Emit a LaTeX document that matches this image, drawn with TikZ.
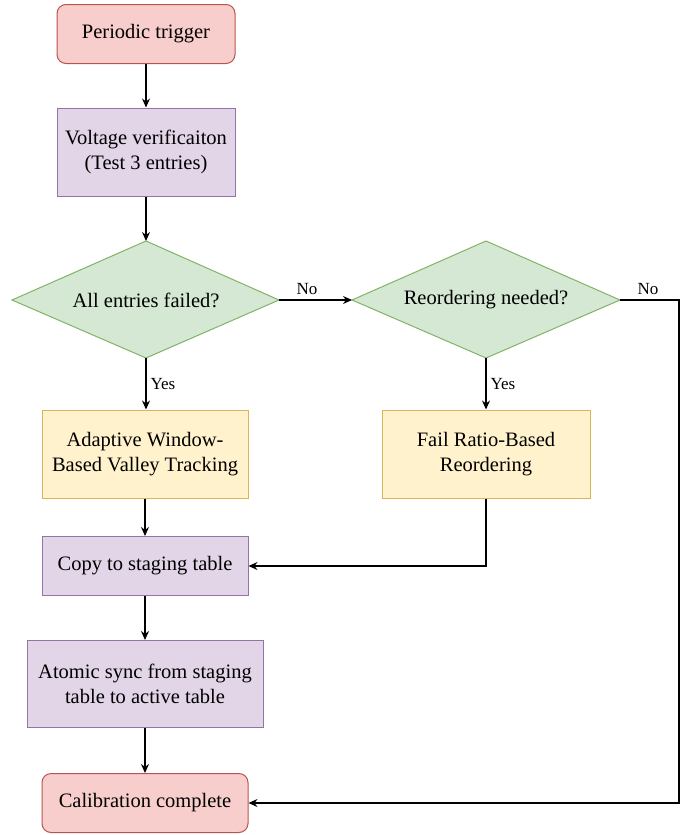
\documentclass[tikz,border=0pt]{standalone}
\usepackage{fontspec}
\setmainfont{Liberation Serif}
\newfontfamily\tnr{Liberation Serif}
\usetikzlibrary{arrows.meta,shapes.geometric}
\definecolor{redF}{HTML}{F8CECC}\definecolor{redS}{HTML}{B85450}
\definecolor{purF}{HTML}{E1D5E7}\definecolor{purS}{HTML}{9673A6}
\definecolor{grnF}{HTML}{D5E8D4}\definecolor{grnS}{HTML}{82B366}
\definecolor{ylwF}{HTML}{FFF2CC}\definecolor{ylwS}{HTML}{D6B656}
\begin{document}
\begin{tikzpicture}[x=1pt,y=-1pt,
  txt/.style={font=\tnr\fontsize{20.5}{25}\selectfont},
  base/.style={draw, line width=1pt, align=center, txt, inner sep=0pt},
  term/.style={base, fill=redF, draw=redS, rounded corners=9pt},
  proc/.style={base, fill=purF, draw=purS},
  alg/.style={base, fill=ylwF, draw=ylwS},
  conn/.style={line width=1.2pt, -{Stealth[length=9pt,width=8pt,inset=3pt]}},
  lab/.style={font=\tnr\fontsize{17}{19}\selectfont, inner sep=0pt}]
\useasboundingbox (0,0) rectangle (686,835);
\node[term, minimum width=178pt, minimum height=59pt] (trig) at (146,34) {Periodic trigger};
\node[proc, minimum width=178pt, minimum height=88pt] (volt) at (146,152) {Voltage verificaiton\\(Test 3 entries)};
\path (146,241) coordinate (d1t) (146,358) coordinate (d1b) (12,300) coordinate (d1l) (279,300) coordinate (d1r);
\path (486,241) coordinate (d2t) (486,358) coordinate (d2b) (352,300) coordinate (d2l) (620,300) coordinate (d2r);
\filldraw[fill=grnF, draw=grnS, line width=1pt] (d1t) -- (d1r) -- (d1b) -- (d1l) -- cycle;
\filldraw[fill=grnF, draw=grnS, line width=1pt] (d2t) -- (d2r) -- (d2b) -- (d2l) -- cycle;
\node[txt] (dec1) at (146,300) {All entries failed?};
\node[txt] (dec2) at (486,300) {Reordering needed?};
\node[alg, minimum width=206pt, minimum height=88pt] (adapt) at (145,454) {Adaptive Window-\\Based Valley Tracking};
\node[alg, minimum width=208pt, minimum height=88pt] (fail) at (486,454) {Fail Ratio-Based\\Reordering};
\node[proc, minimum width=206pt, minimum height=59pt] (copy) at (145,566) {Copy to staging table};
\node[proc, minimum width=236pt, minimum height=87pt] (atom) at (145,684) {Atomic sync from staging\\table to active table};
\node[term, minimum width=206pt, minimum height=59pt] (cal) at (145,803) {Calibration complete};
\draw[conn] (trig) -- (volt);
\draw[conn] (volt.south) -- (d1t);
\draw[conn] (d1r) -- (d2l);
\node[lab] (no1) at (307,289) {No};
\draw[conn] (d1b) -- node[lab, right, xshift=4pt] {Yes} (adapt.north -| d1b);
\draw[conn] (d2b) -- node[lab, right, xshift=4pt] {Yes} (fail.north -| d2b);
\draw[conn] (adapt) -- (copy);
\draw[conn] (copy) -- (atom);
\draw[conn] (atom) -- (cal);
\draw[conn] (fail.south) |- (copy.east);
\coordinate (rc) at (679,300);
\draw[conn] (d2r) -- (rc) |- (cal.east);
\node[lab] (no2) at (648,289) {No};
\end{tikzpicture}
\end{document}
